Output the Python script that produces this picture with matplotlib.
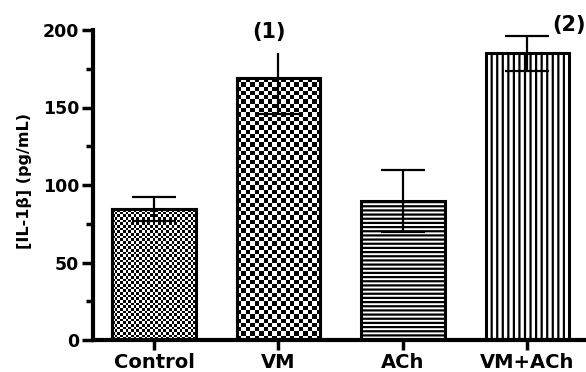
import numpy as np
import matplotlib
matplotlib.use("Agg")
import matplotlib.pyplot as plt

categories = ["Control", "VM", "ACh", "VM+ACh"]
means = [84.5, 169.0, 89.5, 185.0]
err_low = [7.5, 23.0, 20.0, 11.5]
err_high = [7.5, 16.0, 20.0, 11.0]
upper_cap = [True, False, True, True]
annotations = ["(1)", "(2)"]
annot_x = [0.92, 3.33]
annot_y = [199, 203]
yticks = [0, 50, 100, 150, 200]

plt.rcParams['font.family'] = ['DejaVu Sans']
plt.rcParams['font.weight'] = 'bold'
plt.rcParams['hatch.linewidth'] = 1.6

fig = plt.figure(figsize=(5.86, 3.72), dpi=100)
ax = fig.add_axes([93/586, 32/372, 1 - 93/586, 310/372])

x = np.arange(len(categories))
width = 0.667
styles = [
    dict(kind='checker', sq=2.7),
    dict(kind='checker', sq=4.3),
    dict(kind='hatch', hatch='----'),
    dict(kind='hatch', hatch='|||'),
]

ax.set_xlim(-0.49, 3.47)
ax.set_ylim(0, 200)

bars = []
for i in range(len(categories)):
    st = styles[i]
    if st['kind'] == 'hatch':
        b = ax.bar(x[i], means[i], width, facecolor='white', edgecolor='black',
                   hatch=st['hatch'], linewidth=2.2, zorder=2)[0]
    else:
        b = ax.bar(x[i], means[i], width, facecolor='white', edgecolor='black',
                   linewidth=2.2, zorder=2)[0]
    bars.append(b)

fig.canvas.draw()
for i, b in enumerate(bars):
    st = styles[i]
    if st['kind'] != 'checker':
        continue
    bb = b.get_window_extent()
    nx = max(1, int(round(bb.width / st['sq'])))
    ny = max(1, int(round(bb.height / st['sq'])))
    img = (np.indices((ny, nx)).sum(axis=0) % 2).astype(float)
    x0, y0 = b.get_x(), b.get_y()
    im = ax.imshow(img, cmap='gray', vmin=0, vmax=1, interpolation='nearest',
                   extent=[x0, x0 + b.get_width(), y0, y0 + b.get_height()],
                   aspect='auto', zorder=2.5, origin='lower')
    im.set_clip_path(b)
    ax.bar(x[i], means[i], width, facecolor='none', edgecolor='black',
           linewidth=2.2, zorder=3)

for i in range(len(categories)):
    eb = ax.errorbar(x[i], means[i], yerr=[[err_low[i]], [err_high[i]]], fmt='none',
                     ecolor='black', elinewidth=1.6, capsize=15.5, capthick=1.6, zorder=4)
    if not upper_cap[i]:
        for cl in eb[1]:
            if cl.get_ydata()[0] > means[i]:
                cl.set_visible(False)

ax.set_aspect('auto')
ax.set_xlim(-0.49, 3.47)
ax.set_ylim(0, 200)

for s in ['top', 'right']:
    ax.spines[s].set_visible(False)
for s in ['left', 'bottom']:
    ax.spines[s].set_linewidth(3)

ax.set_yticks(yticks)
ax.set_yticks(np.arange(25, 200, 50), minor=True)
ax.set_xticks(x)
ax.set_xticklabels(categories, fontsize=14, fontweight='bold')
ax.tick_params(axis='y', which='major', length=8, width=2.5, labelsize=12.5, pad=2)
ax.tick_params(axis='y', which='minor', length=5, width=2.5)
ax.tick_params(axis='x', which='major', length=7, width=2.5, pad=2)
for lab in ax.get_yticklabels():
    lab.set_fontweight('bold')

ax.set_ylabel("[IL-1β] (pg/mL)", fontsize=11.5, fontweight='bold')
ax.yaxis.set_label_coords(-0.124, 0.513)

for t, ax_x, ax_y in zip(annotations, annot_x, annot_y):
    ax.text(ax_x, ax_y, t, ha='center', va='center', fontsize=15, fontweight='bold',
            clip_on=False)

fig.savefig("out.png", dpi=100)
